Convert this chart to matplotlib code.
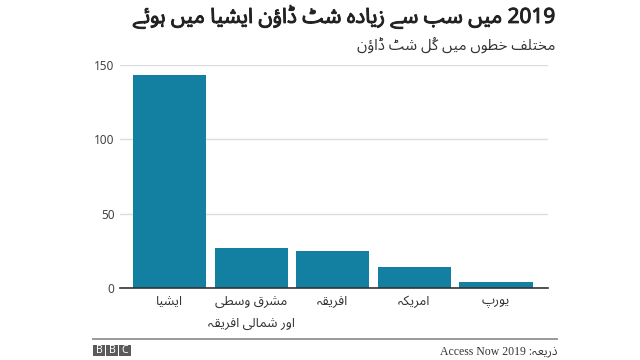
import matplotlib
matplotlib.use("Agg")
import matplotlib.pyplot as plt
from matplotlib.patches import Rectangle
import matplotlib.patheffects as pe

# ---------------- data ----------------
categories = ["ایشیا", "مشرق وسطی\nاور شمالی افریقہ", "افریقہ", "امریکہ", "یورپ"]
shutdowns = [143, 27, 25, 14, 4]
yticks = [0, 50, 100, 150]
title = "2019 میں سب سے زیادہ شٹ ڈاؤن ایشیا میں ہوئے"
subtitle = "مختلف خطوں میں کُل شٹ ڈاؤن"
source = "ذریعہ: Access Now 2019"

# ------------- minimal Arabic-script shaping (contextual forms + RTL order) -------------
FORMS = {
    '\u0627': ('\uFE8D', '\uFE8E', None, None),
    '\u0628': ('\uFE8F', '\uFE90', '\uFE91', '\uFE92'),
    '\u062A': ('\uFE95', '\uFE96', '\uFE97', '\uFE98'),
    '\u062E': ('\uFEA5', '\uFEA6', '\uFEA7', '\uFEA8'),
    '\u062F': ('\uFEA9', '\uFEAA', None, None),
    '\u0630': ('\uFEAB', '\uFEAC', None, None),
    '\u0631': ('\uFEAD', '\uFEAE', None, None),
    '\u0632': ('\uFEAF', '\uFEB0', None, None),
    '\u0633': ('\uFEB1', '\uFEB2', '\uFEB3', '\uFEB4'),
    '\u0634': ('\uFEB5', '\uFEB6', '\uFEB7', '\uFEB8'),
    '\u0637': ('\uFEC1', '\uFEC2', '\uFEC3', '\uFEC4'),
    '\u0639': ('\uFEC9', '\uFECA', '\uFECB', '\uFECC'),
    '\u0641': ('\uFED1', '\uFED2', '\uFED3', '\uFED4'),
    '\u0642': ('\uFED5', '\uFED6', '\uFED7', '\uFED8'),
    '\u0644': ('\uFEDD', '\uFEDE', '\uFEDF', '\uFEE0'),
    '\u0645': ('\uFEE1', '\uFEE2', '\uFEE3', '\uFEE4'),
    '\u0646': ('\uFEE5', '\uFEE6', '\uFEE7', '\uFEE8'),
    '\u0648': ('\uFEED', '\uFEEE', None, None),
    '\u0624': ('\uFE85', '\uFE86', None, None),
    '\u0626': ('\uFE89', '\uFE8A', '\uFE8B', '\uFE8C'),
    '\u06CC': ('\uFBFC', '\uFBFD', '\uFBFE', '\uFBFF'),
    '\u06D2': ('\uFBAE', '\uFBAF', None, None),
    '\u06BA': ('\uFB9E', '\uFB9F', None, None),
    '\u06C1': ('\uFBA6', '\uFBA7', '\uFBA8', '\uFBA9'),
    '\u0679': ('\uFB66', '\uFB67', '\uFB68', '\uFB69'),
    '\u0688': ('\uFB88', '\uFB89', None, None),
    '\u06A9': ('\uFB8E', '\uFB8F', '\uFB90', '\uFB91'),
    '\u067E': ('\uFB56', '\uFB57', '\uFB58', '\uFB59'),
}
MARKS = set('\u064B\u064C\u064D\u064E\u064F\u0650\u0651\u0652\u0670')


def _jt(c):
    if c in FORMS:
        return 'D' if FORMS[c][2] else 'R'
    if c in MARKS:
        return 'T'
    return 'U'


def _shape_line(s):
    chars = list(s)
    n = len(chars)
    out = []
    for i, c in enumerate(chars):
        if c not in FORMS:
            out.append(c)
            continue
        j = i - 1
        while j >= 0 and _jt(chars[j]) == 'T':
            j -= 1
        prev_j = j >= 0 and _jt(chars[j]) == 'D'
        k = i + 1
        while k < n and _jt(chars[k]) == 'T':
            k += 1
        next_j = _jt(c) == 'D' and k < n and _jt(chars[k]) in ('D', 'R')
        iso, fin, ini, med = FORMS[c]
        if prev_j and next_j:
            out.append(med)
        elif prev_j:
            out.append(fin)
        elif next_j:
            out.append(ini)
        else:
            out.append(iso)
    # group base + following marks; in visual order the mark is placed before its base
    clusters = []
    for c in out:
        if c in MARKS and clusters:
            clusters[-1] = c + clusters[-1]
        else:
            clusters.append(c)
    clusters = clusters[::-1]

    def is_ltr(cl):
        return cl[-1].isascii() and cl[-1].isalnum()

    res = []
    i = 0
    while i < len(clusters):
        if is_ltr(clusters[i]):
            j = i
            last = i
            while j < len(clusters) and (is_ltr(clusters[j]) or clusters[j] == ' '):
                if is_ltr(clusters[j]):
                    last = j
                j += 1
            res.extend(clusters[i:last + 1][::-1])
            i = last + 1
        else:
            res.append(clusters[i])
            i += 1
    return ''.join(res)


def rtl(s):
    return '\n'.join(_shape_line(line) for line in s.split('\n'))


FONT = ['Noto Sans', 'Noto Sans Arabic', 'DejaVu Sans']
plt.rcParams['font.family'] = FONT

BAR = '#1380A1'
TXT = '#222222'

fig = plt.figure(figsize=(6.4, 3.6), dpi=100)
ax = fig.add_axes([120 / 640, 1 - 288 / 360, (548 - 120) / 640, (288 - 65) / 360])

x = list(range(len(categories)))
ax.bar(x, shutdowns, width=0.9, color=BAR, zorder=3)
ax.set_xlim(-0.61, 4.64)
ax.set_ylim(0, 150)
ax.set_yticks(yticks)
ax.set_yticklabels([str(v) for v in yticks])
ax.yaxis.grid(True, color='#dddddd', linewidth=1, zorder=0)
ax.set_axisbelow(True)
for s in ['top', 'right', 'left']:
    ax.spines[s].set_visible(False)
ax.spines['bottom'].set_color('#333333')
ax.spines['bottom'].set_linewidth(1.2)
ax.spines['bottom'].set_zorder(4)
ax.tick_params(axis='y', length=0, pad=4, labelsize=8.5, labelcolor='#444444')
ax.tick_params(axis='x', length=0, pad=5, labelsize=9.5, labelcolor='#333333')
ax.set_xticks(x)
ax.set_xticklabels([rtl(c) for c in categories], linespacing=1.85)

bold = [pe.withStroke(linewidth=0.7, foreground=TXT)]
fig.text(555 / 640, 1 - 17 / 360, rtl(title), ha='right', va='center',
         fontsize=15, fontweight='bold', color=TXT, path_effects=bold)
fig.text(555 / 640, 1 - 45 / 360, rtl(subtitle), ha='right', va='center',
         fontsize=10.8, color='#333333')

# footer
fig.add_artist(plt.Line2D([93 / 640, 557 / 640], [1 - 339 / 360] * 2,
                          color='#999999', linewidth=1.4))
for i, ch in enumerate("BBC"):
    x0 = (93 + i * 13) / 640
    fig.add_artist(Rectangle((x0, 1 - 356 / 360), 12 / 640, 11.5 / 360,
                             facecolor='#5a5a5a', edgecolor='none',
                             transform=fig.transFigure))
    fig.text(x0 + 6 / 640, 1 - 350.3 / 360, ch, ha='center', va='center',
             fontsize=7.5, fontweight='bold', color='white')
fig.text(557 / 640, 1 - 351 / 360, rtl(source), ha='right', va='center',
         fontsize=8.5, color='#333333', family=['Liberation Serif', 'Noto Sans Arabic'])

fig.savefig('out.png', dpi=100, facecolor='white')
